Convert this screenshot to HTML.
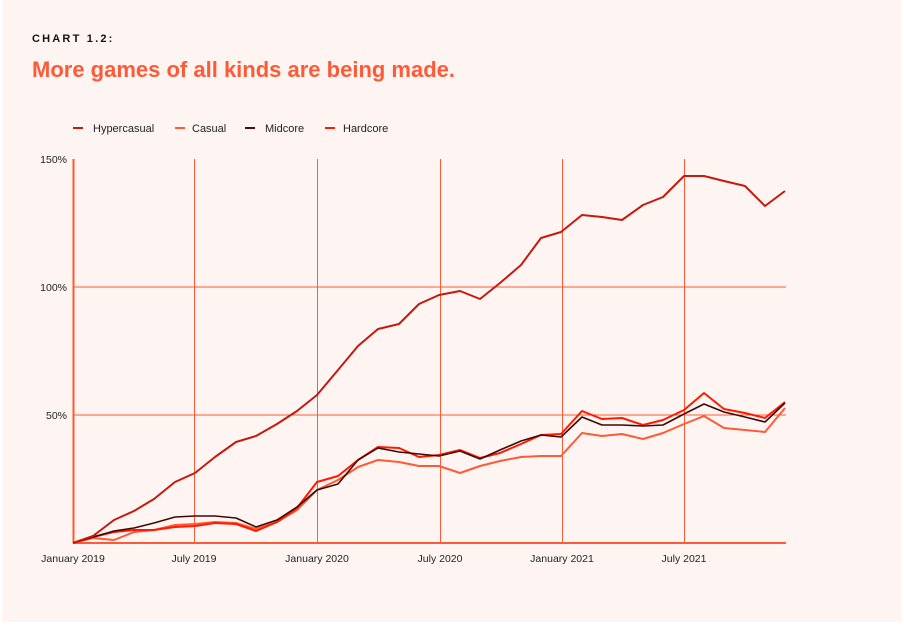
<!DOCTYPE html>
<html><head><meta charset="utf-8"><style>
html,body{margin:0;padding:0;background:#fff;}
svg{display:block;font-family:"Liberation Sans",sans-serif;}
</style></head><body>
<svg width="904" height="626" viewBox="0 0 904 626">
<rect x="2" y="0" width="900" height="622" fill="#fef5f3"/>
<text x="32" y="42" font-size="11" font-weight="bold" letter-spacing="2.2" fill="#111">CHART 1.2:</text>
<text x="32" y="77" font-size="22" font-weight="bold" fill="#ff5a36">More games of all kinds are being made.</text>
<g font-size="11" fill="#222">
<line x1="73" y1="128" x2="83" y2="128" stroke="#c4190c" stroke-width="2"/><text x="93" y="132">Hypercasual</text>
<line x1="175" y1="128" x2="185" y2="128" stroke="#ff5a36" stroke-width="2"/><text x="192" y="132">Casual</text>
<line x1="245" y1="128" x2="255" y2="128" stroke="#4a0d08" stroke-width="2"/><text x="265" y="132">Midcore</text>
<line x1="325" y1="128" x2="335" y2="128" stroke="#ff1a00" stroke-width="2"/><text x="343" y="132">Hardcore</text>
</g>
<g font-size="10.5" fill="#222" text-anchor="end">
<text x="67" y="163">150%</text><text x="67" y="291">100%</text><text x="67" y="419">50%</text>
</g>
<g stroke="#ff5a36" stroke-width="1">
<line x1="73" y1="287" x2="786" y2="287"/><line x1="73" y1="415" x2="786" y2="415"/>
<line x1="194.5" y1="159" x2="194.5" y2="543"/><line x1="317.5" y1="159" x2="317.5" y2="543"/>
<line x1="440.5" y1="159" x2="440.5" y2="543"/><line x1="562.5" y1="159" x2="562.5" y2="543"/>
<line x1="684.5" y1="159" x2="684.5" y2="543"/>
</g>
<line x1="73.5" y1="159" x2="73.5" y2="543" stroke="#ff5a36" stroke-width="2"/>
<line x1="73" y1="543" x2="786" y2="543" stroke="#ff5a36" stroke-width="2"/>
<g font-size="10.5" fill="#222" text-anchor="middle">
<text x="73" y="562">January 2019</text><text x="194" y="562">July 2019</text>
<text x="317" y="562">January 2020</text><text x="440" y="562">July 2020</text>
<text x="562" y="562">January 2021</text><text x="684" y="562">July 2021</text>
</g>
<g fill="none" stroke-width="2" stroke-linejoin="round">
<polyline stroke="#ff5a36" points="73,543 93,538 114,540 134,532 154,530 175,525 195,524 215,522 236,523 256,529 277,522 297,510 317,490 338,480 358,467 378,460 399,462 419,466 439,466 460,473 480,466 500,461 521,457 541,456 561,456 582,433 602,436 622,434 643,439 663,433 684,424 704,416 724,428 745,430 765,432 785,408"/>
<polyline stroke="#ff1a00" points="73,543 93,537 114,532 134,530 154,530 175,527 195,526 215,523 236,524 256,531 277,522 297,508 317,482 338,476 358,460 378,447 399,448 419,457 439,455 460,450 480,458 500,453 521,444 541,435 561,434 582,411 602,419 622,418 643,425 663,420 684,410 704,393 724,409 745,413 765,418 785,402"/>
<polyline stroke="#3d0a06" stroke-width="1.6" points="73,543 93,537 114,531 134,528 154,523 175,517 195,516 215,516 236,518 256,527 277,520 297,507 317,490 338,484 358,460 378,448 399,452 419,454 439,456 460,451 480,459 500,450 521,441 541,435 561,437 582,417 602,425 622,425 643,426 663,425 684,414 704,404 724,412 745,417 765,422 785,403"/>
<polyline stroke="#c4190c" points="73,543 93,536 114,520 134,511 154,499 175,482 195,473 215,457 236,442 256,436 277,424 297,411 317,395 338,370 358,346 378,329 399,324 419,304 439,295 460,291 480,299 500,283 521,265 541,238 561,232 582,215 602,217 622,220 643,205 663,197 684,176 704,176 724,181 745,186 765,206 785,191"/>
</g>
</svg>
</body></html>
